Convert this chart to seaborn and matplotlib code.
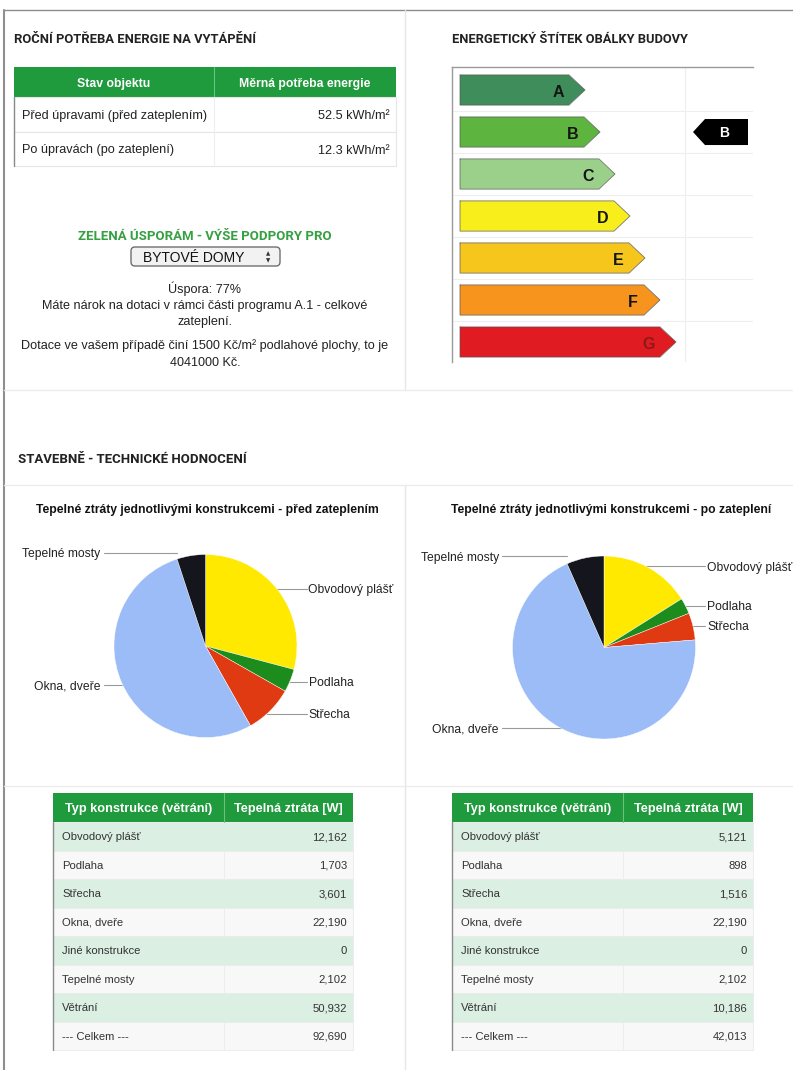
import numpy as np
import pandas as pd
import matplotlib
matplotlib.use("Agg")
import matplotlib.pyplot as plt
import seaborn as sns
from matplotlib.patches import Rectangle, FancyBboxPatch

sns.set_theme(style="white")
plt.rcParams['font.family'] = ['Liberation Sans', 'DejaVu Sans']

# ---------------- DATA ----------------
energy_states = ["Před úpravami (před zateplením)", "Po úpravách (po zateplení)"]
energy_values = [52.5, 12.3]
energy_headers = ["Stav objektu", "Měrná potřeba energie"]

label_classes = ["A", "B", "C", "D", "E", "F", "G"]
label_lengths = [125, 140, 155, 170, 185, 200, 216]
label_colors = ["#3f8d5b", "#5db53f", "#9bd08b", "#f8ee1c", "#f6c61c", "#f7941e", "#e01b22"]
current_class = "B"

constructions = ["Obvodový plášť", "Podlaha", "Střecha", "Okna, dveře",
                 "Jiné konstrukce", "Tepelné mosty", "Větrání"]
loss_before = [12162, 1703, 3601, 22190, 0, 2102, 50932]
loss_after = [5121, 898, 1516, 22190, 0, 2102, 10186]
pie_colors = {"Obvodový plášť": "#ffe900", "Podlaha": "#1c8c1c", "Střecha": "#df3a12",
              "Okna, dveře": "#9bbcf7", "Jiné konstrukce": "#aaaaaa", "Tepelné mosty": "#15151e"}
table_headers = ["Typ konstrukce (větrání)", "Tepelná ztráta [W]"]

savings_pct = 77
subsidy_rate = 1500
subsidy_total = 4041000
building_type = "BYTOVÉ DOMY"

# ---------------- LAYOUT ----------------
W, H = 793, 1070
GREEN = "#1f9a3c"
TITLE_FONT = ['Liberation Sans Narrow', 'Roboto', 'DejaVu Sans']
VA = "center_baseline"

fig = plt.figure(figsize=(W / 100, H / 100), dpi=100)
fig.patch.set_facecolor("white")
bg = fig.add_axes([0, 0, 1, 1])
bg.set_xlim(0, W)
bg.set_ylim(H, 0)
bg.axis("off")
bg.set_zorder(0)


def add_ax(x0, y0, x1, y1):
    a = fig.add_axes([x0 / W, 1 - y1 / H, (x1 - x0) / W, (y1 - y0) / H])
    a.set_zorder(2)
    a.patch.set_alpha(0)
    return a


# panel borders
bg.plot([4, W], [10, 10], color="#8c8c8c", lw=1.0)
bg.plot([4, 4], [10, H], color="#8f8f8f", lw=1.5)
bg.plot([405, 405], [10, 390], color="#e6e6e6", lw=1.0)
bg.plot([405, 405], [485, H], color="#e6e6e6", lw=1.0)
for yy in (390, 485, 786):
    bg.plot([4, W], [yy, yy], color="#ececec", lw=1.0)

# ---------------- TOP LEFT ----------------
bg.text(14, 38, "ROČNÍ POTŘEBA ENERGIE NA VYTÁPĚNÍ", fontsize=9.4, fontweight="bold",
        family=TITLE_FONT, va=VA, ha="left", color="#222222")

tx0, tx1, tdiv = 14, 396, 214
bg.add_patch(Rectangle((tx0, 67), tx1 - tx0, 30, facecolor=GREEN, edgecolor="none"))
bg.plot([tdiv, tdiv], [67, 97], color="#6cc17f", lw=0.8)
bg.text((tx0 + tdiv) / 2, 82, energy_headers[0], color="white", fontsize=8.8,
        fontweight="bold", ha="center", va=VA)
bg.text((tdiv + tx1) / 2, 82, energy_headers[1], color="white", fontsize=8.8,
        fontweight="bold", ha="center", va=VA)
row_y = [97, 132, 166]
for i, (st, val) in enumerate(zip(energy_states, energy_values)):
    y0, y1 = row_y[i], row_y[i + 1]
    bg.add_patch(Rectangle((tx0, y0), tx1 - tx0, y1 - y0, facecolor="white",
                           edgecolor="#e6e6e6", lw=0.8))
    bg.plot([tdiv, tdiv], [y0, y1], color="#eeeeee", lw=0.8)
    bg.text(tx0 + 8, (y0 + y1) / 2, st, fontsize=9.1, color="#222222", ha="left", va=VA)
    bg.text(tx1 - 6, (y0 + y1) / 2, f"{val} kWh/m²", fontsize=9.1, color="#222222",
            ha="right", va=VA)
bg.plot([tx0, tx0], [97, 166], color="#8a8a8a", lw=1.0)

bg.text(205, 235, "ZELENÁ ÚSPORÁM - VÝŠE PODPORY PRO", fontsize=9.5, fontweight="bold",
        family=TITLE_FONT, color="#36a043", ha="center", va=VA)
bg.add_patch(FancyBboxPatch((131, 247), 149, 19, boxstyle="round,pad=0,rounding_size=4",
                            facecolor="#f2f2f2", edgecolor="#6e6e6e", lw=1.0))
bg.text(194, 257, building_type, fontsize=10, color="#111111", ha="center", va=VA)
bg.text(268, 253.5, "▲", fontsize=4, color="#333333", ha="center", va="center",
        family=["DejaVu Sans"])
bg.text(268, 260.5, "▼", fontsize=4, color="#333333", ha="center", va="center",
        family=["DejaVu Sans"])
body_lines = [
    (287, f"Úspora: {savings_pct}%"),
    (304, "Máte nárok na dotaci v rámci části programu A.1 - celkové"),
    (321, "zateplení."),
    (344, f"Dotace ve vašem případě činí {subsidy_rate} Kč/m² podlahové plochy, to je"),
    (361, f"{subsidy_total} Kč."),
]
for yy, s in body_lines:
    bg.text(205, yy, s, fontsize=9.1, color="#222222", ha="center", va=VA)

# ---------------- TOP RIGHT: energy label ----------------
bg.text(452, 38, "ENERGETICKÝ ŠTÍTEK OBÁLKY BUDOVY", fontsize=9.3, fontweight="bold",
        family=TITLE_FONT, va=VA, ha="left", color="#222222")

ax_e = add_ax(452, 67, 753, 362)
tip = 16
bodies = [L - tip for L in label_lengths]
df_lab = pd.DataFrame({"cls": label_classes, "body": bodies})
sns.barplot(data=df_lab, x="body", y="cls", hue="cls", palette=label_colors, orient="h",
            width=0.72, edgecolor="none", legend=False, ax=ax_e, saturation=1)
hh = 0.36
for i, (L, c) in enumerate(zip(label_lengths, label_colors)):
    b = L - tip
    ax_e.fill([b - 0.5, L, b - 0.5], [i - hh, i, i + hh], color=c, lw=0)
    ax_e.plot([0, b, L, b, 0, 0], [i - hh, i - hh, i, i + hh, i + hh, i - hh],
              color="#555555", lw=0.6, alpha=0.8)
    ax_e.text(L - 27, i + 0.05, label_classes[i], fontsize=11.5, fontweight="bold",
              color="#8b1a1a" if label_classes[i] == "G" else "#151515",
              ha="center", va="center")
ci = label_classes.index(current_class)
ax_e.fill([233, 245, 288, 288, 245], [ci, ci - 0.31, ci - 0.31, ci + 0.31, ci + 0.31],
          color="black", lw=0)
ax_e.text(264, ci + 0.03, current_class, fontsize=10, fontweight="bold", color="white",
          ha="center", va="center")
for k in range(len(label_classes) - 1):
    ax_e.axhline(k + 0.5, color="#eeeeee", lw=0.8, zorder=0)
ax_e.axvline(225, color="#eeeeee", lw=0.8, zorder=0)
ax_e.set_xlim(-8, 293)
ax_e.set_ylim(6.476, -0.548)
ax_e.set_xlabel("")
ax_e.set_ylabel("")
ax_e.set_xticks([])
ax_e.set_yticks([])
for side in ("right", "bottom"):
    ax_e.spines[side].set_visible(False)
for side in ("left", "top"):
    ax_e.spines[side].set_visible(True)
    ax_e.spines[side].set_color("#9a9a9a")
    ax_e.spines[side].set_linewidth(1.0)

# ---------------- SECTION TITLE ----------------
bg.text(18, 458, "STAVEBNĚ - TECHNICKÉ HODNOCENÍ", fontsize=9.5, fontweight="bold",
        family=TITLE_FONT, va=VA, ha="left", color="#222222")


# ---------------- PIES ----------------
def draw_pie(cx, cy, r, values, title, title_x, label_pos):
    names = [n for n, v in zip(constructions[:-1], values[:-1]) if v > 0]
    vals = [v for v in values[:-1] if v > 0]
    ax = add_ax(cx - r, cy - r, cx + r, cy + r)
    wedges, _ = ax.pie(vals, colors=[pie_colors[n] for n in names], startangle=90,
                       counterclock=False, radius=1,
                       wedgeprops=dict(edgecolor="white", linewidth=0.3))
    ax.set_xlim(-1, 1)
    ax.set_ylim(-1, 1)
    ax.set_aspect("equal")
    ax.axis("off")
    bg.text(title_x, 509, title, fontsize=8.7, fontweight="bold", color="#111111",
            ha="center", va=VA)
    for n, w in zip(names, wedges):
        side, ly = label_pos[n]
        t1, t2 = w.theta1, w.theta2
        span = (t2 - t1) % 360 if (t2 - t1) % 360 != 0 else 360
        dy = cy - ly
        xe = None
        if abs(dy) < r:
            a = np.degrees(np.arcsin(dy / r))
            if side == "L":
                a = 180 - a
            if (a - t1) % 360 <= span:
                xe = cx + r * np.cos(np.radians(a))
        if xe is None:
            xs = [cx + r * np.cos(np.radians(t)) for t in (t1, t2)]
            xe = min(xs) if side == "L" else max(xs)
        if side == "L":
            bg.text(cx - 105, ly, n, fontsize=8.7, color="#222222", ha="right", va=VA)
            bg.plot([cx - 102, xe], [ly, ly], color="#9a9a9a", lw=0.8)
        else:
            bg.text(cx + 103, ly, n, fontsize=8.7, color="#222222", ha="left", va=VA)
            bg.plot([xe, cx + 101], [ly, ly], color="#9a9a9a", lw=0.8)


draw_pie(205.5, 646, 91.5, loss_before,
         "Tepelné ztráty jednotlivými konstrukcemi - před zateplením", 207,
         {"Tepelné mosty": ("L", 553), "Obvodový plášť": ("R", 589), "Podlaha": ("R", 682),
          "Střecha": ("R", 714), "Okna, dveře": ("L", 685)})
draw_pie(604, 647.5, 91.5, loss_after,
         "Tepelné ztráty jednotlivými konstrukcemi - po zateplení", 611,
         {"Tepelné mosty": ("L", 556), "Obvodový plášť": ("R", 566), "Podlaha": ("R", 606),
          "Střecha": ("R", 626), "Okna, dveře": ("L", 728)})


# ---------------- BOTTOM TABLES ----------------
def draw_table(x0, x1, xdiv, values):
    y0, hh_, rh = 793, 29, 28.5
    bg.add_patch(Rectangle((x0, y0), x1 - x0, hh_, facecolor=GREEN, edgecolor="none"))
    bg.plot([xdiv, xdiv], [y0, y0 + hh_], color="#6cc17f", lw=0.8)
    bg.text((x0 + xdiv) / 2, y0 + hh_ / 2, table_headers[0], color="white", fontsize=9.2,
            fontweight="bold", ha="center", va=VA)
    bg.text((xdiv + x1) / 2, y0 + hh_ / 2, table_headers[1], color="white", fontsize=9.2,
            fontweight="bold", ha="center", va=VA)
    names = constructions + ["--- Celkem ---"]
    vals = list(values) + [sum(values)]
    for i, (n, v) in enumerate(zip(names, vals)):
        ry = y0 + hh_ + i * rh
        fc = "#dcefe3" if i % 2 == 0 else "#f8f8f8"
        bg.add_patch(Rectangle((x0, ry), x1 - x0, rh, facecolor=fc, edgecolor="#ebebeb",
                               lw=0.6))
        if i % 2 == 1:
            bg.plot([xdiv, xdiv], [ry, ry + rh], color="#ececec", lw=0.6)
        bg.text(x0 + 9, ry + rh / 2, n, fontsize=8.1, color="#333333", ha="left", va=VA)
        bg.text(x1 - 6, ry + rh / 2, f"{v:,}", fontsize=8.1, color="#333333", ha="right",
                va=VA)
    bg.plot([x0, x0], [y0 + hh_, y0 + hh_ + len(names) * rh], color="#8a8a8a", lw=1.0)


draw_table(53, 353, 224, loss_before)
draw_table(452, 753, 623, loss_after)

fig.savefig("out.png", dpi=100, facecolor="white")
